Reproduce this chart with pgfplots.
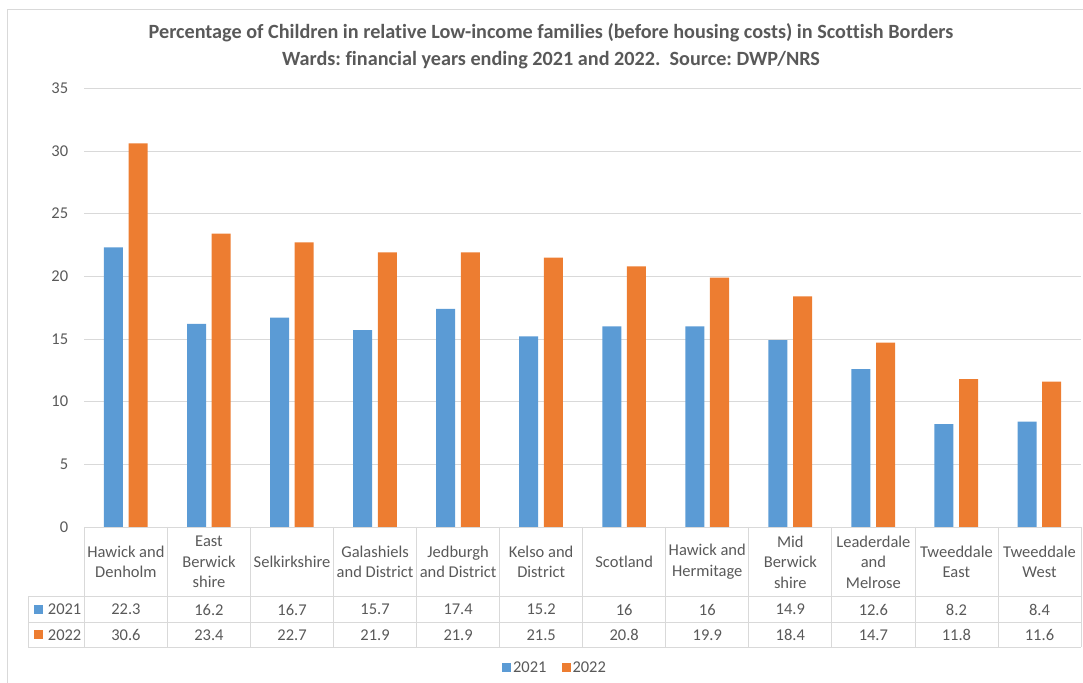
\documentclass[border=0pt]{standalone}
\usepackage{pgfplots}
\usepackage{pgfplotstable}
\pgfplotsset{compat=1.18}
\usepackage{fontspec}
\setmainfont{Carlito}[Ligatures=NoCommon]
\frenchspacing

\definecolor{c2021}{HTML}{5B9BD5}
\definecolor{c2022}{HTML}{ED7D31}
\definecolor{txt}{HTML}{595959}
\definecolor{gridc}{HTML}{D9D9D9}

% ward, 2021, 2022
\pgfplotstableread{
x a b
0 22.3 30.6
1 16.2 23.4
2 16.7 22.7
3 15.7 21.9
4 17.4 21.9
5 15.2 21.5
6 16 20.8
7 16 19.9
8 14.9 18.4
9 12.6 14.7
10 8.2 11.8
11 8.4 11.6
}\wards

\newcommand{\lblfont}{\fontsize{16.5}{20.5}\selectfont}

\begin{document}
\begin{tikzpicture}[x=1pt,y=1pt]
\useasboundingbox (0,0) rectangle (1083,682);
% chart frame (left and top visible)
\draw[gridc, line width=1pt] (7.3,-5) -- (7.3,672.7) -- (1090,672.7);

\node[txt, font=\bfseries\fontsize{20.2}{27}\selectfont, align=center] at (551,635.5)
  {Percentage of Children in relative Low-income families (before housing costs) in Scottish Borders\\
   Wards: financial years ending 2021 and 2022.\ \ Source: DWP/NRS};

\begin{axis}[
  at={(84.4pt,155pt)}, anchor=south west,
  scale only axis, width=996.6pt, height=438.7pt,
  xmin=-0.5, xmax=11.5, ymin=0, ymax=35,
  ytick={0,5,...,35},
  xtick={0,...,11},
  xticklabels={{Hawick and\\Denholm},{East\\Berwick\\shire},Selkirkshire,
    {Galashiels\\and District},{Jedburgh\\and District},{Kelso and\\District},
    Scotland,{Hawick and\\Hermitage},{Mid\\Berwick\\shire},
    {Leaderdale\\and\\Melrose},{Tweeddale\\East},{Tweeddale\\West}},
  ymajorgrids, grid style={gridc, line width=0.75pt},
  axis line style={draw=none},
  major tick length=0pt,
  clip=false,
  tick label style={text=txt, font=\lblfont},
  yticklabel style={anchor=east, inner sep=0pt, xshift=-16pt},
  xticklabel style={anchor=center, inner sep=0pt, align=center, yshift=-34.85pt},
  /pgf/number format/assume math mode=true,
  legend style={at={(0.4722,-0.3214)}, anchor=center, draw=none, fill=none,
    legend columns=2, font=\lblfont, text=txt,
    /tikz/every even column/.append style={column sep=13pt}},
  legend image code/.code={\fill[#1] (0pt,-4.5pt) rectangle (9pt,4.5pt);},
]
\addplot[ybar, bar width=0.229, bar shift=-0.15, fill=c2021, draw=none]
  table[x=x, y=a] {\wards};
\addlegendentry{2021}
\addplot[ybar, bar width=0.229, bar shift=0.147, fill=c2022, draw=none]
  table[x=x, y=b] {\wards};
\addlegendentry{2022}

% data table values
\addplot[forget plot, draw=none, mark=none, nodes near coords, point meta=explicit,
  every node near coord/.style={anchor=center, inner sep=0pt, text=txt, font=\lblfont}]
  table[x=x, y expr=-6.582, meta=a] {\wards};
\addplot[forget plot, draw=none, mark=none, nodes near coords, point meta=explicit,
  every node near coord/.style={anchor=center, inner sep=0pt, text=txt, font=\lblfont}]
  table[x=x, y expr=-8.601, meta=b] {\wards};
\end{axis}

% data table grid
\begin{scope}[gridc, line width=0.75pt]
\foreach \k in {0,...,12}
  \draw (84.4+83.05*\k,155) -- (84.4+83.05*\k,34.7);
\draw (28.3,85.3) -- (1081,85.3);
\draw (28.3,59.7) -- (1081,59.7);
\draw (28.3,34.7) -- (1081,34.7);
\draw (28.3,85.3) -- (28.3,34.7);
\end{scope}
\fill[c2021] (34.3,68) rectangle (43.3,77);
\node[anchor=west, inner sep=0pt, text=txt, font=\lblfont] at (47.7,72.5) {2021};
\fill[c2022] (34.3,42.7) rectangle (43.3,51.7);
\node[anchor=west, inner sep=0pt, text=txt, font=\lblfont] at (47.7,47.2) {2022};
\end{tikzpicture}
\end{document}
